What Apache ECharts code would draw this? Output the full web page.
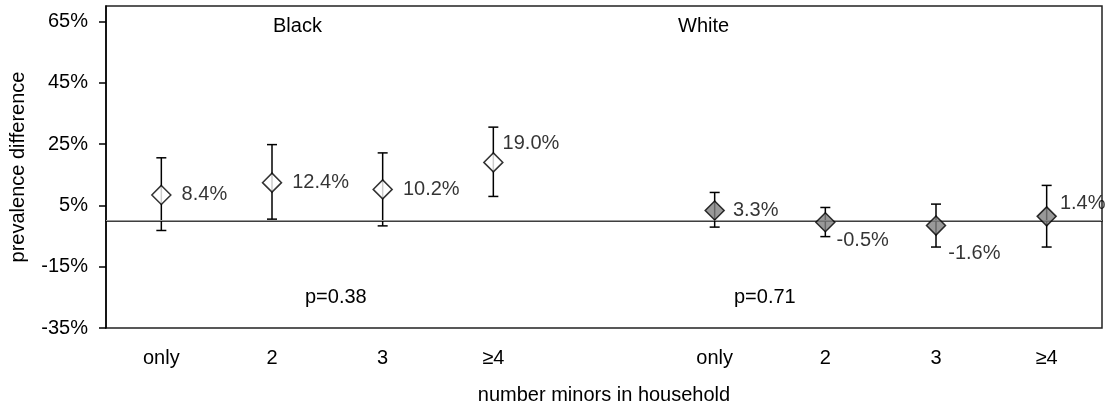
<!DOCTYPE html>
<html>
<head>
<meta charset="utf-8">
<script src="https://cdn.jsdelivr.net/npm/echarts@6/dist/echarts.min.js"></script>
<style>html,body{margin:0;padding:0;background:#fff}#c{width:1110px;height:412px}</style>
</head>
<body>
<div id="c"></div>
<script>
// ---- data ----
const categories = ['only', '2', '3', '≥4', '', 'only', '2', '3', '≥4'];
const blackIdx = [0, 1, 2, 3];
const blackEst = [8.4, 12.4, 10.2, 19.0];
const blackLow = [-3.2, 0.5, -1.7, 7.9];
const blackHigh = [20.5, 24.8, 22.1, 30.5];
const whiteIdx = [5, 6, 7, 8];
const whiteEst = [3.3, -0.5, -1.6, 1.4];
const whiteLow = [-2.1, -5.2, -8.6, -8.6];
const whiteHigh = [9.2, 4.3, 5.4, 11.5];
const yTicks = [-35, -15, 5, 25, 45, 65];
const groupLabels = ['Black', 'White'];
const pValues = ['p=0.38', 'p=0.71'];

// ---- label placement (style) ----
const blackLabelOffset = [[0, 0], [0, 0], [0, 0], [-11, -19]];
const whiteLabelOffset = [[-2, 0], [-9, 18], [-8, 28], [-7, -13]];

const FONT = 'Liberation Sans, Arial, sans-serif';
const FS = 20;

function points(idx, est, offs) {
  return idx.map((c, i) => ({
    value: [c, est[i]],
    label: { offset: offs[i] }
  }));
}
function bars(idx, lo, hi) {
  return idx.map((c, i) => [c, lo[i], hi[i]]);
}

const errRender = function (params, api) {
  const x = api.value(0);
  const p1 = api.coord([x, api.value(1)]);
  const p2 = api.coord([x, api.value(2)]);
  const w = 5;
  const st = { stroke: '#000', lineWidth: 1.5 };
  return {
    type: 'group',
    children: [
      { type: 'line', shape: { x1: p1[0], y1: p1[1], x2: p2[0], y2: p2[1] }, style: st },
      { type: 'line', shape: { x1: p1[0] - w, y1: p1[1], x2: p1[0] + w, y2: p1[1] }, style: st },
      { type: 'line', shape: { x1: p2[0] - w, y1: p2[1], x2: p2[0] + w, y2: p2[1] }, style: st }
    ]
  };
};

const labelStyle = {
  show: true, position: 'right', distance: 10,
  color: '#000', fontFamily: FONT, fontSize: FS,
  formatter: p => p.value[1].toFixed(1) + '%'
};

const chart = echarts.init(document.getElementById('c'), null, { renderer: 'canvas' });
chart.setOption({
  animation: false,
  backgroundColor: '#fff',
  grid: { left: 105, right: 8, top: 6, bottom: 84, show: true, borderColor: '#222', borderWidth: 1.5, containLabel: false },
  xAxis: {
    type: 'category', data: categories, boundaryGap: true,
    axisLine: { lineStyle: { color: '#000', width: 1.5 } },
    axisTick: { show: false },
    axisLabel: { color: '#000', fontFamily: FONT, fontSize: FS, margin: 20, interval: 0 },
    name: 'number minors in household', nameLocation: 'middle', nameGap: 57,
    nameTextStyle: { color: '#000', fontFamily: FONT, fontSize: FS },
    splitLine: { show: false }
  },
  yAxis: {
    type: 'value', min: -35, max: 70,
    axisLine: { show: true, lineStyle: { color: '#000', width: 1.5 } },
    axisTick: { show: true, length: 7, inside: false, customValues: yTicks, lineStyle: { color: '#000', width: 1.5 } },
    axisLabel: { color: '#000', fontFamily: FONT, fontSize: FS, margin: 18, customValues: yTicks, formatter: v => v + '%' },
    splitLine: { show: false },
    name: 'prevalence difference', nameLocation: 'middle', nameGap: 78, nameRotate: 90,
    nameTextStyle: { color: '#000', fontFamily: FONT, fontSize: FS }
  },
  graphic: [
    { type: 'text', left: 273, top: 16, style: { text: groupLabels[0], font: FS + 'px ' + FONT, fill: '#000' } },
    { type: 'text', left: 678, top: 16, style: { text: groupLabels[1], font: FS + 'px ' + FONT, fill: '#000' } },
    { type: 'text', left: 305, top: 287, style: { text: pValues[0], font: FS + 'px ' + FONT, fill: '#000' } },
    { type: 'text', left: 734, top: 287, style: { text: pValues[1], font: FS + 'px ' + FONT, fill: '#000' } }
  ],
  series: [
    {
      type: 'line', data: [], silent: true,
      markLine: {
        silent: true, symbol: ['none', 'none'], label: { show: false },
        lineStyle: { color: '#999', width: 1, type: 'solid' },
        data: [{ yAxis: 0 }]
      }
    },
    { type: 'custom', renderItem: errRender, data: bars(blackIdx, blackLow, blackHigh), z: 3 },
    { type: 'custom', renderItem: errRender, data: bars(whiteIdx, whiteLow, whiteHigh), z: 3 },
    {
      type: 'scatter', symbol: 'diamond', symbolSize: 19, z: 5,
      itemStyle: { color: '#fff', borderColor: '#000', borderWidth: 1.5 },
      label: labelStyle,
      data: points(blackIdx, blackEst, blackLabelOffset)
    },
    {
      type: 'scatter', symbol: 'diamond', symbolSize: 19, z: 5,
      itemStyle: { color: '#7f7f7f', borderColor: '#000', borderWidth: 1.5 },
      label: labelStyle,
      data: points(whiteIdx, whiteEst, whiteLabelOffset)
    }
  ]
});
</script>
</body>
</html>
